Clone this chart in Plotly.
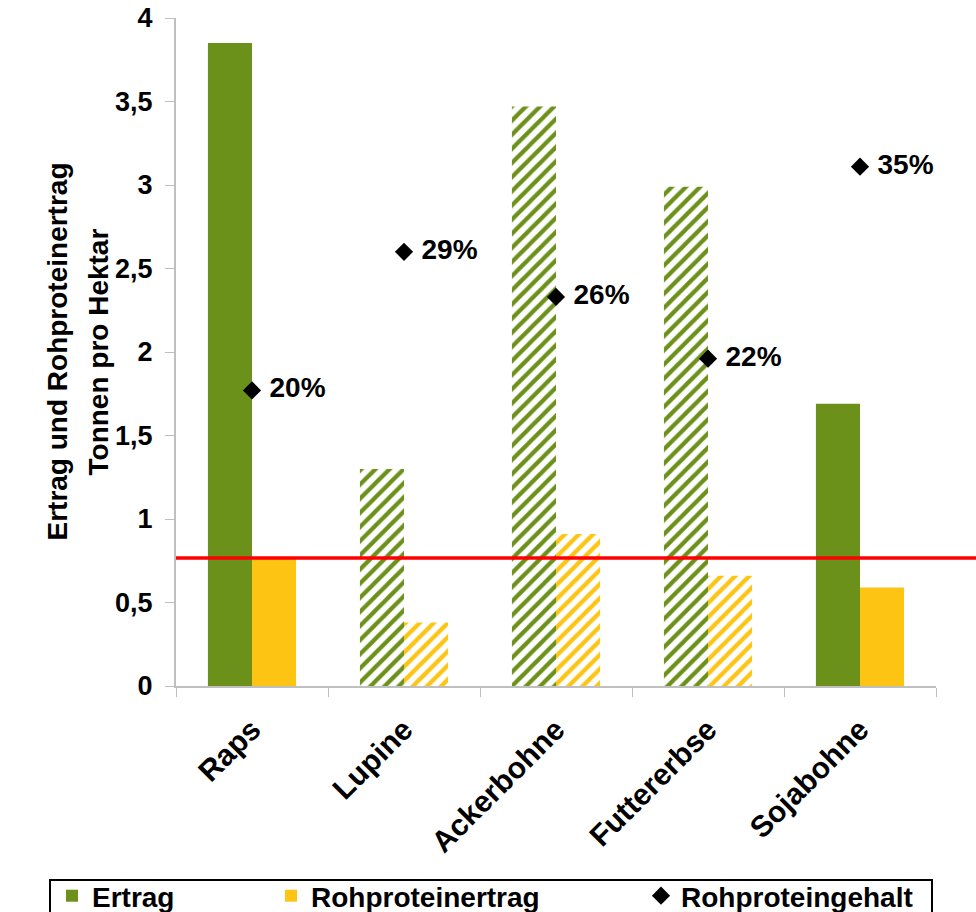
import plotly.graph_objects as go

categories = ["Raps", "Lupine", "Ackerbohne", "Futtererbse", "Sojabohne"]
ertrag = [3.85, 1.30, 3.47, 2.99, 1.69]
rohproteinertrag = [0.76, 0.38, 0.91, 0.66, 0.59]
rohproteingehalt = [1.77, 2.60, 2.33, 1.96, 3.11]
gehalt_labels = ["20%", "29%", "26%", "22%", "35%"]
hatch = ["", "/", "/", "/", ""]
reference_line = 0.766
y_ticks = [0, 0.5, 1, 1.5, 2, 2.5, 3, 3.5, 4]
y_ticktext = ["0", "0,5", "1", "1,5", "2", "2,5", "3", "3,5", "4"]

GREEN = "#6B911A"
YELLOW = "#FDC414"
FONT = "Liberation Sans"

W, H = 976, 912
L, R, T, B = 176, 40, 18, 226
pw, ph = W - L - R, H - T - B


def px_x(x):
    return (x - L) / pw


def px_y(y):
    return (H - B - y) / ph


fig = go.Figure()
fig.add_trace(go.Bar(
    x=categories, y=ertrag, name="Ertrag",
    marker=dict(color=GREEN, line=dict(width=0),
                pattern=dict(shape=hatch, fgcolor=GREEN, bgcolor="white",
                             size=10, solidity=0.42, fillmode="replace")),
    legend="legend",
))
fig.add_trace(go.Bar(
    x=categories, y=rohproteinertrag, name="Rohproteinertrag",
    marker=dict(color=YELLOW, line=dict(width=0),
                pattern=dict(shape=hatch, fgcolor=YELLOW, bgcolor="white",
                             size=10, solidity=0.42, fillmode="replace")),
    legend="legend2",
))
fig.add_trace(go.Scatter(
    x=categories, y=rohproteingehalt, name="Rohproteingehalt",
    mode="markers+text", text=gehalt_labels, texttemplate=" %{text}",
    textposition="middle right",
    textfont=dict(family=FONT, size=28, color="black", weight="bold"),
    marker=dict(symbol="diamond", size=14, color="black"),
    legend="legend3",
))

fig.add_shape(type="line", xref="paper", yref="y",
              x0=0, x1=px_x(976), y0=reference_line, y1=reference_line,
              line=dict(color="#FF0000", width=3.5), layer="above")

fig.add_shape(type="rect", xref="paper", yref="paper",
              x0=px_x(50), x1=px_x(932), y0=px_y(880), y1=px_y(930),
              line=dict(color="black", width=2), fillcolor="rgba(0,0,0,0)")

leg_font = dict(family=FONT, size=28, color="black", weight="bold")
leg_common = dict(orientation="h", yanchor="middle", xanchor="left",
                  font=leg_font, bgcolor="rgba(0,0,0,0)", borderwidth=0,
                  y=px_y(896))

fig.add_annotation(xref="paper", yref="paper", x=px_x(39), y=0.5,
                   text="<b>Ertrag und Rohproteinertrag</b>", showarrow=False,
                   textangle=-90, font=dict(family=FONT, size=28, color="black"))
fig.add_annotation(xref="paper", yref="paper", x=px_x(80), y=0.5,
                   text="<b>Tonnen pro Hektar</b>", showarrow=False,
                   textangle=-90, font=dict(family=FONT, size=28, color="black"))

fig.update_layout(
    width=W, height=H,
    margin=dict(l=L, r=R, t=T, b=B, autoexpand=False),
    paper_bgcolor="white", plot_bgcolor="white",
    barmode="group", bargap=0.42, bargroupgap=0,
    showlegend=True,
    legend=dict(x=px_x(52), **leg_common),
    legend2=dict(x=px_x(271), **leg_common),
    legend3=dict(x=px_x(641), **leg_common),
    font=dict(family=FONT, color="black"),
    xaxis=dict(
        showline=True, linecolor="#BFBFBF", linewidth=2,
        ticks="outside", tickson="boundaries", ticklen=9, tickcolor="#BFBFBF",
        tickangle=-45, showgrid=False, ticklabelstandoff=12, automargin=False,
        tickfont=dict(family=FONT, size=30, color="black", weight="bold"),
    ),
    yaxis=dict(
        range=[0, 4], tickvals=y_ticks, ticktext=y_ticktext,
        showline=True, linecolor="#BFBFBF", linewidth=2,
        ticks="outside", ticklen=9, tickcolor="#BFBFBF", automargin=False,
        showgrid=False, zeroline=False, ticklabelstandoff=7,
        tickfont=dict(family=FONT, size=27, color="black", weight="bold"),
    ),
)

fig.write_html("out.html")
